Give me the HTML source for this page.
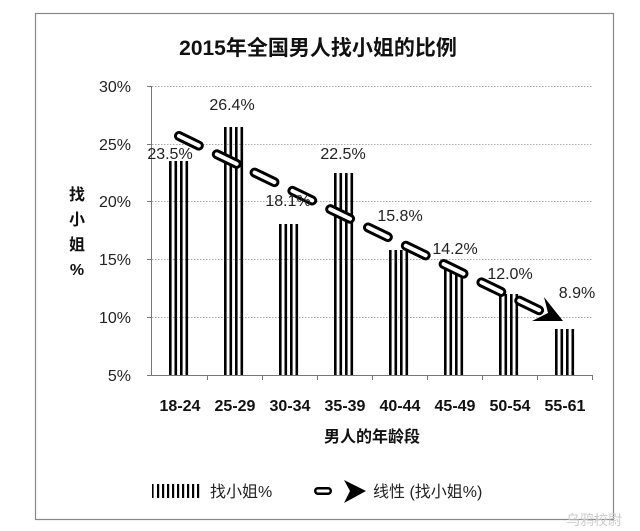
<!DOCTYPE html>
<html><head><meta charset="utf-8"><style>
body{margin:0;background:#fff;}
svg{display:block;font-family:"Liberation Sans","Noto Sans CJK SC",sans-serif;}
</style></head><body>
<svg width="640" height="531" viewBox="0 0 640 531" xmlns="http://www.w3.org/2000/svg">
<rect x="0" y="0" width="640" height="531" fill="#fff"/>
<rect x="35.5" y="13.5" width="578" height="506" fill="#fff" stroke="#888" stroke-width="1.2"/>
<text x="318" y="55" font-size="21" font-weight="bold" text-anchor="middle" fill="#111">2015年全国男人找小姐的比例</text>
<g stroke="#aaa" stroke-width="1" stroke-dasharray="1.5,1.5">
<line x1="152" y1="86.5" x2="592" y2="86.5"/>
<line x1="152" y1="144.5" x2="592" y2="144.5"/>
<line x1="152" y1="201.5" x2="592" y2="201.5"/>
<line x1="152" y1="259.5" x2="592" y2="259.5"/>
<line x1="152" y1="317.5" x2="592" y2="317.5"/>
</g>
<g stroke="#777" stroke-width="1">
<line x1="151.5" y1="86" x2="151.5" y2="375"/>
<line x1="151" y1="375.5" x2="593" y2="375.5"/>
<line x1="147" y1="86.5" x2="151" y2="86.5"/><line x1="147" y1="144.5" x2="151" y2="144.5"/>
<line x1="147" y1="201.5" x2="151" y2="201.5"/><line x1="147" y1="259.5" x2="151" y2="259.5"/>
<line x1="147" y1="317.5" x2="151" y2="317.5"/><line x1="147" y1="375.5" x2="151" y2="375.5"/>
<line x1="207.5" y1="375" x2="207.5" y2="380"/><line x1="262.5" y1="375" x2="262.5" y2="380"/>
<line x1="317.5" y1="375" x2="317.5" y2="380"/><line x1="372.5" y1="375" x2="372.5" y2="380"/>
<line x1="427.5" y1="375" x2="427.5" y2="380"/><line x1="482.5" y1="375" x2="482.5" y2="380"/>
<line x1="537.5" y1="375" x2="537.5" y2="380"/><line x1="592.5" y1="375" x2="592.5" y2="380"/>
</g>
<g font-size="16" fill="#222" text-anchor="end">
<text x="131" y="92">30%</text><text x="131" y="150">25%</text><text x="131" y="207">20%</text>
<text x="131" y="265">15%</text><text x="131" y="323">10%</text><text x="131" y="381">5%</text>
</g>
<g fill="#000">
<g><rect x="169" y="161" width="2.6" height="214"/><rect x="174.5" y="161" width="2.6" height="214"/><rect x="180" y="161" width="2.6" height="214"/><rect x="185.5" y="161" width="2.6" height="214"/></g>
<g><rect x="224" y="127" width="2.6" height="248"/><rect x="229.5" y="127" width="2.6" height="248"/><rect x="235" y="127" width="2.6" height="248"/><rect x="240.5" y="127" width="2.6" height="248"/></g>
<g><rect x="279" y="224" width="2.6" height="151"/><rect x="284.5" y="224" width="2.6" height="151"/><rect x="290" y="224" width="2.6" height="151"/><rect x="295.5" y="224" width="2.6" height="151"/></g>
<g><rect x="334" y="173" width="2.6" height="202"/><rect x="339.5" y="173" width="2.6" height="202"/><rect x="345" y="173" width="2.6" height="202"/><rect x="350.5" y="173" width="2.6" height="202"/></g>
<g><rect x="389" y="250" width="2.6" height="125"/><rect x="394.5" y="250" width="2.6" height="125"/><rect x="400" y="250" width="2.6" height="125"/><rect x="405.5" y="250" width="2.6" height="125"/></g>
<g><rect x="444" y="269" width="2.6" height="106"/><rect x="449.5" y="269" width="2.6" height="106"/><rect x="455" y="269" width="2.6" height="106"/><rect x="460.5" y="269" width="2.6" height="106"/></g>
<g><rect x="499" y="294" width="2.6" height="81"/><rect x="504.5" y="294" width="2.6" height="81"/><rect x="510" y="294" width="2.6" height="81"/><rect x="515.5" y="294" width="2.6" height="81"/></g>
<g><rect x="555" y="329" width="2.6" height="46"/><rect x="560.5" y="329" width="2.6" height="46"/><rect x="566" y="329" width="2.6" height="46"/><rect x="571.5" y="329" width="2.6" height="46"/></g>
</g>
<line x1="179" y1="136" x2="551" y2="316" stroke="#000" stroke-width="10" stroke-linecap="round" stroke-dasharray="22,20"/>
<line x1="179" y1="136" x2="551" y2="316" stroke="#fff" stroke-width="4" stroke-linecap="round" stroke-dasharray="22,20"/>
<path d="M563,321 L532,321 L548,313 L544,297 Z" fill="#000"/>
<g font-size="16" fill="#222" text-anchor="middle">
<text x="170" y="159">23.5%</text><text x="232" y="110">26.4%</text><text x="288" y="206">18.1%</text>
<text x="343" y="159">22.5%</text><text x="400" y="221">15.8%</text><text x="455" y="254">14.2%</text>
<text x="510" y="279">12.0%</text><text x="577" y="298">8.9%</text>
</g>
<g font-size="16" font-weight="bold" fill="#111" text-anchor="middle">
<text x="180" y="411">18-24</text><text x="235" y="411">25-29</text><text x="290" y="411">30-34</text>
<text x="345" y="411">35-39</text><text x="400" y="411">40-44</text><text x="455" y="411">45-49</text>
<text x="510" y="411">50-54</text><text x="565" y="411">55-61</text>
<text x="372" y="442">男人的年龄段</text>
</g>
<g font-size="16" font-weight="bold" fill="#111" text-anchor="middle">
<text x="77" y="200">找</text><text x="77" y="225">小</text><text x="77" y="250">姐</text><text x="77" y="275">%</text>
</g>
<g fill="#000">
<rect x="152" y="484" width="1.6" height="14"/><rect x="157" y="484" width="2.2" height="14"/><rect x="162" y="484" width="2.2" height="14"/><rect x="167" y="484" width="2.2" height="14"/><rect x="172" y="484" width="2.2" height="14"/><rect x="177" y="484" width="2.2" height="14"/><rect x="182" y="484" width="2.2" height="14"/><rect x="187" y="484" width="2.2" height="14"/><rect x="192" y="484" width="2.2" height="14"/><rect x="197" y="484" width="2.2" height="14"/>
</g>
<text x="210" y="497" font-size="16" fill="#222">找小姐%</text>
<line x1="318" y1="491" x2="328" y2="491" stroke="#000" stroke-width="8" stroke-linecap="round"/>
<line x1="318" y1="491" x2="328" y2="491" stroke="#fff" stroke-width="3" stroke-linecap="round"/>
<path d="M344,480 L366,491 L344,503 L350,491 Z" fill="#000"/>
<text x="373" y="497" font-size="16" fill="#222">线性 (找小姐%)</text>
<text x="622" y="525" font-size="14" fill="#ccc" text-anchor="end">乌鸦校尉</text>
</svg>
</body></html>
